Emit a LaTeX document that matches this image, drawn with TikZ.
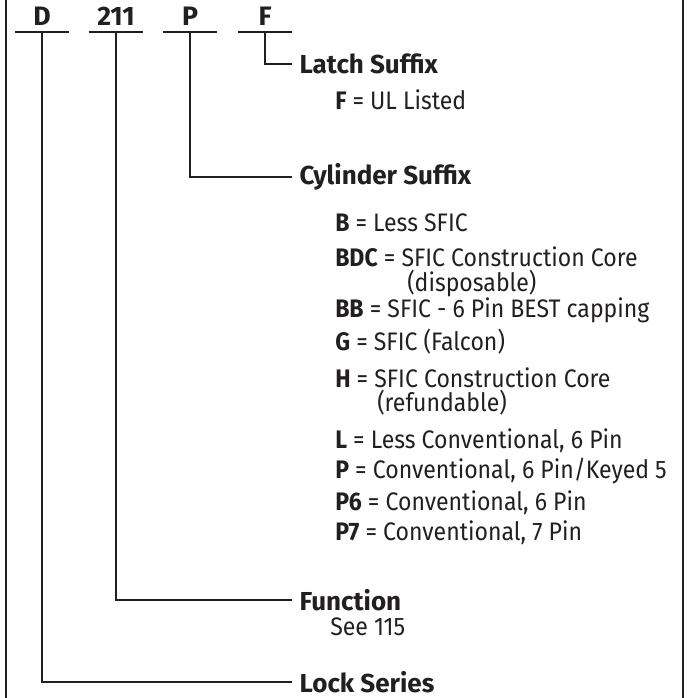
\documentclass[tikz,border=0pt]{standalone}
\usepackage{fontspec}
\setmainfont{Fira Sans}[FakeStretch=0.91]
\newfontfamily\headfont{Fira Sans}
\usepackage{xcolor}
\usepackage{tikz}
\definecolor{ink}{RGB}{35,31,32}

\begin{document}
\begin{tikzpicture}[x=0.75pt,y=0.75pt,yscale=-1,xscale=1,
  every node/.style={text=ink,font=\fontsize{19}{22}\selectfont},
  stem/.style={draw=ink,line width=1.6pt},
  codebox/.style={anchor=south,inner xsep=0pt,inner ysep=5pt,text depth=0pt,minimum width=40.5pt,font=\headfont\fontsize{20}{22}\selectfont\bfseries},
  heading/.style={anchor=west,inner xsep=5.5pt,inner ysep=0pt,font=\headfont\fontsize{19.5}{22}\selectfont\bfseries},
  entry/.style={anchor=base west,inner sep=0pt}]
\useasboundingbox (0,0) rectangle (686,698);

%Shape: Frame
\draw [draw=ink,line width=1.2pt] (6,-10) rectangle (683,710);

% Code letters
\node [codebox] (cD) at (42,32) {D};
\node [codebox] (c211) at (116,32) {211};
\node [codebox] (cP) at (190,32) {P};
\node [codebox] (cF) at (265,32) {F};
%underlines
\foreach \c in {cD,c211,cP,cF}
  \draw [stem] (\c.south west) -- (\c.south east);

% Headings
\node [heading] (latch) at (292,64) {Latch Suffix};
\node [heading] (cyl) at (292,177) {Cylinder Suffix};
\node [heading] (func) at (292,600) {Function};
\node [heading] (series) at (292,682) {Lock Series};

%Straight Lines
\draw [stem] (cF.south) |- (latch.west);
\draw [stem] (cP.south) |- (cyl.west);
\draw [stem] (c211.south) |- (func.west);
\draw [stem] (cD.south) |- (series.west);

% Text Node: latch
\node [entry] (eF) at (335,110) {\textbf{F} = UL Listed};

% Text Node: cylinder
\node [entry] (eB) at (335,232) {\textbf{B} = Less SFIC};
\node [entry] (eBDC) at (335,267) {\textbf{BDC} = SFIC Construction Core};
\node [entry] (eBDCb) at (407,291) {(disposable)};
\node [entry] (eBB) at (335,317) {\textbf{BB} = SFIC - 6 Pin BEST capping};
\node [entry] (eG) at (335,350) {\textbf{G} = SFIC (Falcon)};
\node [entry] (eH) at (335,387) {\textbf{H} = SFIC Construction Core};
\node [entry] (eHb) at (377,411) {(refundable)};
\node [entry] (eL) at (335,448) {\textbf{L} = Less Conventional, 6 Pin};
\node [entry] (eP) at (335,478) {\textbf{P} = Conventional, 6 Pin/Keyed 5};
\node [entry] (eP6) at (335,510) {\textbf{P6} = Conventional, 6 Pin};
\node [entry] (eP7) at (335,540) {\textbf{P7} = Conventional, 7 Pin};

% Text Node: function
\node [entry] (see) at (330,635) {See 115};

\end{tikzpicture}
\end{document}
